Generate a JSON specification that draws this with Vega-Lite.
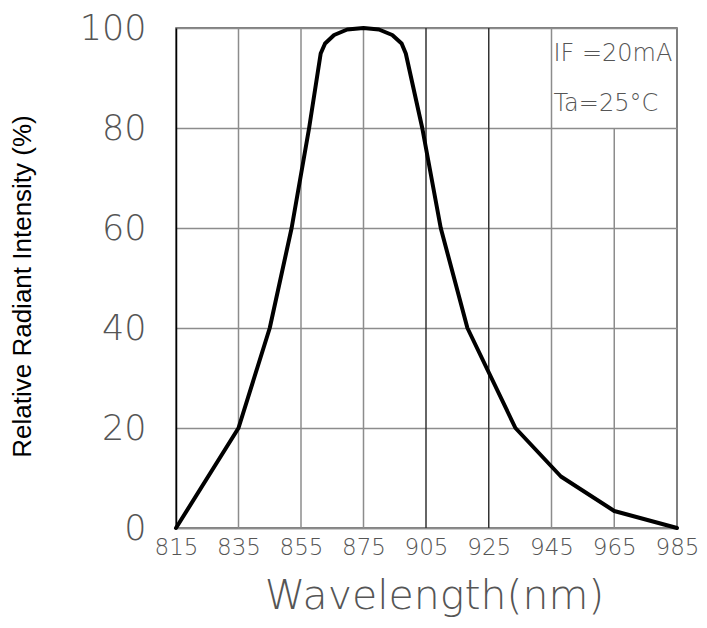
{
  "$schema": "https://vega.github.io/schema/vega-lite/v6.json",
  "width": 501,
  "height": 500,
  "autosize": "none",
  "padding": {"left": 176, "top": 28, "right": 30, "bottom": 100},
  "background": "white",
  "config": {"view": {"stroke": "#555555", "strokeWidth": 1.5}},
  "datasets": {
    "curve": [
      {"wavelength": 815, "intensity": 0},
      {"wavelength": 835, "intensity": 20},
      {"wavelength": 845, "intensity": 40},
      {"wavelength": 852, "intensity": 60},
      {"wavelength": 857.6, "intensity": 80},
      {"wavelength": 861.3, "intensity": 94.9},
      {"wavelength": 862.7, "intensity": 96.9},
      {"wavelength": 865.6, "intensity": 98.6},
      {"wavelength": 869.8, "intensity": 99.7},
      {"wavelength": 875, "intensity": 100},
      {"wavelength": 882.4, "intensity": 99.7},
      {"wavelength": 888.8, "intensity": 98.6},
      {"wavelength": 893.3, "intensity": 96.9},
      {"wavelength": 895.3, "intensity": 94.9},
      {"wavelength": 903.2, "intensity": 80},
      {"wavelength": 909.7, "intensity": 60},
      {"wavelength": 918.2, "intensity": 40},
      {"wavelength": 933.5, "intensity": 20},
      {"wavelength": 948, "intensity": 10.3},
      {"wavelength": 965, "intensity": 3.4},
      {"wavelength": 985, "intensity": 0}
    ],
    "grid": [
      {"wavelength": 835, "from": 0, "to": 100},
      {"wavelength": 855, "from": 0, "to": 100},
      {"wavelength": 875, "from": 0, "to": 100},
      {"wavelength": 905, "from": 0, "to": 100},
      {"wavelength": 925, "from": 0, "to": 100},
      {"wavelength": 945, "from": 0, "to": 100},
      {"wavelength": 965, "from": 0, "to": 80}
    ],
    "notes": [
      {"label": "IF =20mA", "wavelength": 945.6, "intensity": 94.8},
      {"label": "Ta=25°C", "wavelength": 945.6, "intensity": 84.8}
    ]
  },
  "layer": [
    {
      "data": {"name": "grid"},
      "mark": {"type": "rule", "strokeWidth": 1.5},
      "encoding": {
        "x": {
          "field": "wavelength", "type": "quantitative",
          "scale": {"domain": [815, 875, 905, 985], "range": [0, 187.5, 250, 501], "nice": false, "zero": false},
          "axis": {
            "values": [815, 835, 855, 875, 905, 925, 945, 965, 985],
            "format": "d", "grid": false, "ticks": false,
            "domainColor": "#8c8c8c", "domainWidth": 1.5,
            "labelFont": "DejaVu Sans", "labelFontWeight": 200, "labelFontSize": 23, "labelColor": "#555555",
            "labelPadding": 8, "labelFlush": false, "labelOverlap": false,
            "title": "Wavelength(nm)", "titleFont": "DejaVu Sans", "titleFontWeight": 200, "titleFontSize": 41,
            "titleColor": "#555555", "titleX": 258, "titleY": 80, "titleBaseline": "alphabetic", "titleAlign": "center"
          }
        },
        "y": {
          "field": "from", "type": "quantitative",
          "scale": {"domain": [0, 100], "nice": false},
          "axis": {
            "values": [0, 20, 40, 60, 80, 100],
            "grid": true, "gridColor": "#8c8c8c", "gridWidth": 1.5, "ticks": false,
            "domainColor": "black", "domainWidth": 1.5,
            "labelFont": "DejaVu Sans", "labelFontWeight": 200, "labelFontSize": 35, "labelColor": "#555555",
            "labelPadding": 30,
            "title": "Relative Radiant Intensity (%)", "titleFont": "Liberation Sans", "titleFontSize": 26,
            "titleFontWeight": "normal", "titleColor": "black", "titleAngle": -90,
            "titleX": -146, "titleY": 258, "titleAlign": "center", "titleBaseline": "alphabetic"
          }
        },
        "y2": {"field": "to"},
        "color": {
          "condition": {"test": "datum.wavelength == 905 || datum.wavelength == 925", "value": "#333333"},
          "value": "#8c8c8c"
        }
      }
    },
    {
      "data": {"name": "curve"},
      "mark": {"type": "line", "color": "black", "strokeWidth": 4, "strokeJoin": "round", "strokeCap": "round"},
      "encoding": {
        "x": {"field": "wavelength", "type": "quantitative"},
        "y": {"field": "intensity", "type": "quantitative"}
      }
    },
    {
      "data": {"name": "notes"},
      "mark": {"type": "text", "align": "left", "baseline": "middle", "font": "DejaVu Sans", "fontWeight": 200, "fontSize": 24, "color": "#555555"},
      "encoding": {
        "x": {"field": "wavelength", "type": "quantitative"},
        "y": {"field": "intensity", "type": "quantitative"},
        "text": {"field": "label"}
      }
    }
  ]
}
